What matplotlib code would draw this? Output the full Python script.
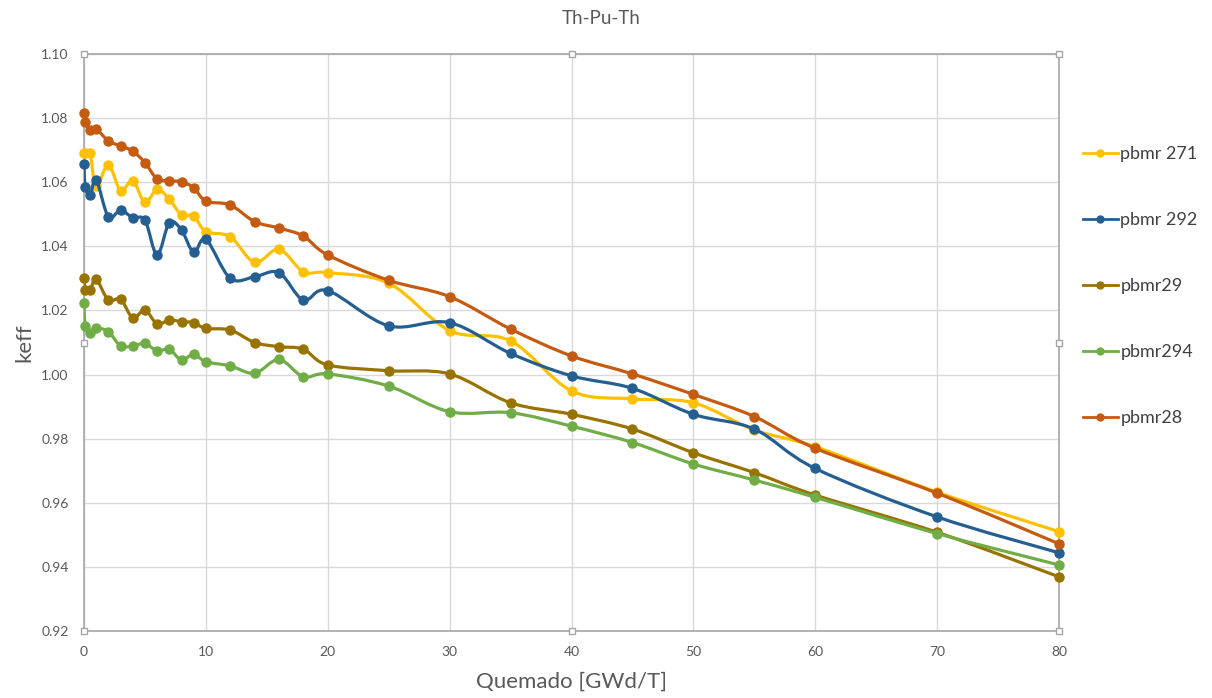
import matplotlib
matplotlib.use("Agg")
import matplotlib.pyplot as plt
from matplotlib.path import Path
from matplotlib.patches import PathPatch
from matplotlib.lines import Line2D
import numpy as np

plt.rcParams['font.family'] = ['Lato', 'DejaVu Sans']

# ---------------- data ----------------
burnup = [0, 0.1, 0.5, 1, 2, 3, 4, 5, 6, 7, 8, 9, 10, 12, 14, 16, 18, 20,
          25, 30, 35, 40, 45, 50, 55, 60, 70, 80]

pbmr271 = [1.0690, 1.0690, 1.0690, 1.0588, 1.0654, 1.0574, 1.0605, 1.0537, 1.0578, 1.0547,
           1.0498, 1.0495, 1.0446, 1.0430, 1.0350, 1.0391, 1.0321, 1.0318,
           1.0285, 1.0137, 1.0105, 0.9949, 0.9924, 0.9912, 0.9827, 0.9775, 0.9633, 0.9510]
pbmr292 = [1.0657, 1.0586, 1.0560, 1.0607, 1.0492, 1.0513, 1.0489, 1.0482, 1.0373, 1.0474,
           1.0451, 1.0381, 1.0422, 1.0300, 1.0305, 1.0318, 1.0232, 1.0262,
           1.0152, 1.0162, 1.0066, 0.9996, 0.9957, 0.9876, 0.9830, 0.9707, 0.9556, 0.9444]
pbmr29 = [1.0302, 1.0264, 1.0264, 1.0297, 1.0232, 1.0235, 1.0177, 1.0201, 1.0158, 1.0170,
          1.0165, 1.0162, 1.0144, 1.0139, 1.0100, 1.0087, 1.0079, 1.0030,
          1.0012, 1.0002, 0.9912, 0.9876, 0.9830, 0.9756, 0.9694, 0.9624, 0.9508, 0.9369]
pbmr294 = [1.0222, 1.0151, 1.0129, 1.0144, 1.0134, 1.0089, 1.0089, 1.0097, 1.0074, 1.0079,
           1.0045, 1.0064, 1.0040, 1.0027, 1.0004, 1.0047, 0.9993, 1.0002,
           0.9964, 0.9884, 0.9881, 0.9839, 0.9788, 0.9721, 0.9671, 0.9617, 0.9504, 0.9406]
pbmr28 = [1.0816, 1.0788, 1.0763, 1.0766, 1.0729, 1.0713, 1.0697, 1.0661, 1.0610, 1.0605,
          1.0601, 1.0583, 1.0541, 1.0529, 1.0477, 1.0457, 1.0432, 1.0373,
          1.0294, 1.0243, 1.0142, 1.0058, 1.0002, 0.9938, 0.9869, 0.9770, 0.9630, 0.9472]

series_names = ['pbmr 271', 'pbmr 292', 'pbmr29', 'pbmr294', 'pbmr28']
series_values = [pbmr271, pbmr292, pbmr29, pbmr294, pbmr28]
series_colors = ['#FFC000', '#255E91', '#997300', '#70AD47', '#C55A11']

x_ticks = [0, 10, 20, 30, 40, 50, 60, 70, 80]
y_ticks = [0.92, 0.94, 0.96, 0.98, 1.00, 1.02, 1.04, 1.06, 1.08, 1.10]
title = 'Th-Pu-Th'
xlabel = 'Quemado [GWd/T]'
ylabel = 'keff'

# ---------------- figure ----------------
W, H = 1212, 698
fig = plt.figure(figsize=(W / 100, H / 100), dpi=100)
L, R, T, B = 84, 1059, 54, 631
ax = fig.add_axes([L / W, 1 - B / H, (R - L) / W, (B - T) / H])


def smooth_path(xs, ys):
    """Excel-like smoothed line: cubic Bezier through all points."""
    xs = np.asarray(xs, float)
    ys = np.asarray(ys, float)
    n = len(xs)
    pts = np.column_stack([xs, ys])
    verts = [pts[0]]
    codes = [Path.MOVETO]
    for i in range(n - 1):
        p0 = pts[i - 1] if i > 0 else pts[i]
        p1 = pts[i]
        p2 = pts[i + 1]
        p3 = pts[i + 2] if i + 2 < n else pts[i + 1]
        c1 = p1 + (p2 - p0) / 6.0
        c2 = p2 - (p3 - p1) / 6.0
        verts += [c1, c2, p2]
        codes += [Path.CURVE4] * 3
    return Path(verts, codes)


handles = []
for k, (name, vals, col) in enumerate(zip(series_names, series_values, series_colors)):
    patch = PathPatch(smooth_path(burnup, vals), facecolor='none', edgecolor=col,
                      lw=2.3, zorder=3 + k * 0.1, capstyle='round', joinstyle='round')
    ax.add_patch(patch)
    ax.plot(burnup, vals, linestyle='none', marker='o', markersize=6.5,
            color=col, zorder=3.05 + k * 0.1, clip_on=False)
    handles.append(Line2D([], [], color=col, lw=2.0, marker='o', markersize=5))

ax.set_xlim(0, 80)
ax.set_ylim(0.92, 1.10)
ax.set_xticks(x_ticks)
ax.set_yticks(y_ticks)
ax.set_yticklabels([f'{v:.2f}' for v in y_ticks])
ax.grid(True, color='#D9D9D9', lw=1.0)
ax.set_axisbelow(True)
ax.tick_params(length=0, labelsize=10, labelcolor='#595959')
ax.tick_params(axis='y', pad=11)
ax.tick_params(axis='x', pad=11)
for s in ax.spines.values():
    s.set_color('#A6A6A6')
    s.set_linewidth(1.2)

ax.set_xlabel(xlabel, fontsize=16, color='#595959', labelpad=10)
ax.set_ylabel(ylabel, fontsize=16, color='#595959', labelpad=5)
fig.text(601 / W, 1 - 18 / H, title, ha='center', va='center', fontsize=13.5, color='#595959')

# selection handles around the plot area
hx = [0, 0.5, 1, 0, 1, 0, 0.5, 1]
hy = [1, 1, 1, 0.5, 0.5, 0, 0, 0]
ax.plot(hx, hy, linestyle='none', marker='s', markersize=5, markerfacecolor='white',
        markeredgecolor='#A6A6A6', markeredgewidth=1.0, transform=ax.transAxes,
        clip_on=False, zorder=10)

leg = fig.legend(handles, series_names, loc='upper left',
                 bbox_to_anchor=(1067 / W, 1 - 130 / H), frameon=False,
                 fontsize=13, labelspacing=2.77, handlelength=1.9, handletextpad=0.15,
                 labelcolor='#404040')

fig.savefig('out.png', dpi=100, facecolor='white')
